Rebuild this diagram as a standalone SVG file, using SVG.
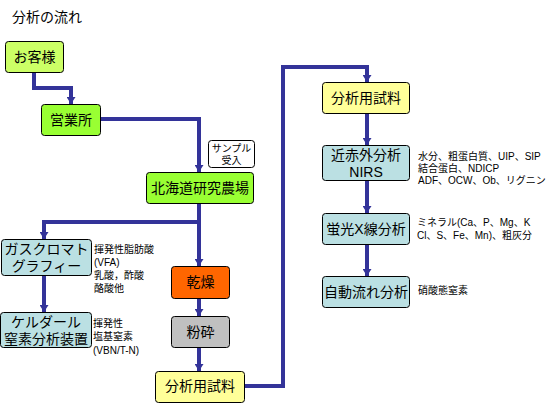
<svg xmlns="http://www.w3.org/2000/svg" width="552" height="403" viewBox="0 0 552 403">
<defs>
<marker id="ah" viewBox="0 0 7 9" refX="7" refY="4.5" markerWidth="7" markerHeight="9" markerUnits="userSpaceOnUse" orient="auto">
<path d="M0,0 L7,4.5 L0,9 Z" fill="#333399"/>
</marker>
<style>
text{font-family:"Liberation Sans","Noto Sans CJK JP",sans-serif;fill:#000}
.box{stroke:#000;stroke-width:1}
.lbl{font-size:14px;text-anchor:middle;dominant-baseline:central}
.note{font-size:10px}
.c{fill:none;stroke:#333399;stroke-width:4;stroke-linejoin:miter}
</style>
</defs>
<rect width="552" height="403" fill="#fff"/>
<text x="12" y="22" font-size="14">分析の流れ</text>

<g id="connectors">
<path class="c" d="M34,72 V88 H71 V104" marker-end="url(#ah)"/>
<path class="c" d="M100,119 H199 V172" marker-end="url(#ah)"/>
<path class="c" d="M199,203 V266" marker-end="url(#ah)"/>
<path class="c" d="M199,222 H44 V239" marker-end="url(#ah)"/>
<path class="c" d="M44,275 V312" marker-end="url(#ah)"/>
<path class="c" d="M199,298 V316" marker-end="url(#ah)"/>
<path class="c" d="M199,347 V371" marker-end="url(#ah)"/>
<path class="c" d="M244,386 H283 V67 H367 V82" marker-end="url(#ah)"/>
<path class="c" d="M367,113 V145" marker-end="url(#ah)"/>
<path class="c" d="M367,180 V213" marker-end="url(#ah)"/>
<path class="c" d="M367,244 V276" marker-end="url(#ah)"/>
</g>

<g id="okyakusama"><rect class="box" x="5.5" y="41.5" width="58" height="31" rx="3" fill="#CCFF66"/><text class="lbl" x="34.5" y="57">お客様</text></g>
<g id="eigyosho"><rect class="box" x="41.5" y="104.5" width="59" height="31" rx="3" fill="#99FF33"/><text class="lbl" x="71" y="120">営業所</text></g>
<g id="sample"><rect class="box" x="208.5" y="140.5" width="46" height="27" rx="3" fill="#fff"/><text class="note" x="231.5" y="152" text-anchor="middle">サンプル</text><text class="note" x="231.5" y="164" text-anchor="middle">受入</text></g>
<g id="nojo"><rect class="box" x="146.5" y="172.5" width="107" height="31" rx="3" fill="#99FF33"/><text class="lbl" x="200" y="188">北海道研究農場</text></g>
<g id="gc"><rect class="box" x="1.5" y="239.5" width="90" height="36" rx="3" fill="#BBE0E3"/><text class="lbl" x="46.5" y="249">ガスクロマト</text><text class="lbl" x="46.5" y="266">グラフィー</text>
<text class="note" x="94" y="253" font-size="11">揮発性脂肪酸</text><text class="note" x="94" y="266" font-size="11">(VFA)</text><text class="note" x="94" y="279" font-size="11">乳酸，酢酸</text><text class="note" x="94" y="292" font-size="11">酪酸他</text></g>
<g id="kjeldahl"><rect class="box" x="0.5" y="312.5" width="91" height="35" rx="3" fill="#BBE0E3"/><text class="lbl" x="46" y="322">ケルダール</text><text class="lbl" x="46" y="339">窒素分析装置</text>
<text class="note" x="93" y="327" font-size="10.5">揮発性</text><text class="note" x="93" y="340" font-size="10.5">塩基窒素</text><text class="note" x="93" y="354" font-size="10.5">(VBN/T-N)</text></g>
<g id="kanso"><rect class="box" x="171.5" y="266.5" width="58" height="32" rx="3" fill="#FF6600"/><text class="lbl" x="200.5" y="282">乾燥</text></g>
<g id="funsai"><rect class="box" x="171.5" y="316.5" width="58" height="31" rx="3" fill="#C0C0C0"/><text class="lbl" x="200.5" y="332">粉砕</text></g>
<g id="shiryo1"><rect class="box" x="155.5" y="371.5" width="89" height="31" rx="3" fill="#FFFF99"/><text class="lbl" x="200" y="386">分析用試料</text></g>
<g id="shiryo2"><rect class="box" x="322.5" y="82.5" width="87" height="31" rx="3" fill="#FFFF99"/><text class="lbl" x="366" y="98">分析用試料</text></g>
<g id="nirs"><rect class="box" x="322.5" y="145.5" width="87" height="35" rx="3" fill="#BBE0E3"/><text class="lbl" x="366" y="155">近赤外分析</text><text class="lbl" x="366" y="172">NIRS</text>
<text class="note" x="418" y="160">水分、粗蛋白質、UIP、SIP</text><text class="note" x="418" y="172">結合蛋白、NDICP</text><text class="note" x="418" y="184">ADF、OCW、Ob、リグニン</text></g>
<g id="xrf"><rect class="box" x="322.5" y="213.5" width="87" height="31" rx="3" fill="#BBE0E3"/><text class="lbl" x="366" y="229">蛍光X線分析</text>
<text class="note" x="417" y="226">ミネラル(Ca、P、Mg、K</text><text class="note" x="417" y="239">Cl、S、Fe、Mn)、粗灰分</text></g>
<g id="auto"><rect class="box" x="322.5" y="276.5" width="87" height="31" rx="3" fill="#BBE0E3"/><text class="lbl" x="366" y="292">自動流れ分析</text>
<text class="note" x="418" y="294">硝酸態窒素</text></g>
</svg>
